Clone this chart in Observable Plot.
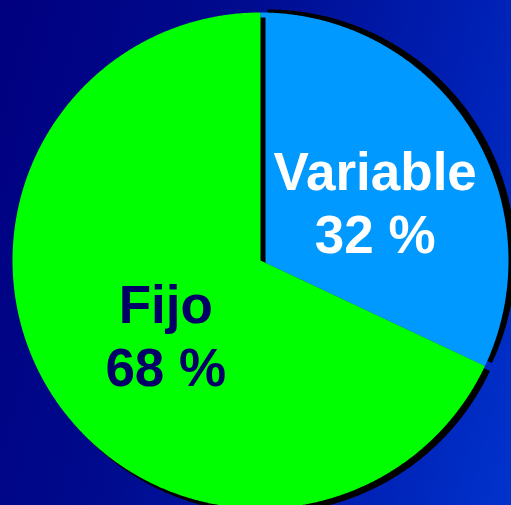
<!DOCTYPE html>
<html>
<head>
<meta charset="utf-8">
<script src="https://cdn.jsdelivr.net/npm/d3@7"></script>
<script src="https://cdn.jsdelivr.net/npm/@observablehq/plot@0.6"></script>
<style>
  html, body { margin: 0; padding: 0; background: #000080; }
  #chart svg { display: block; }
</style>
</head>
<body>
<div id="chart"></div>
<script>
// Data
const categories = ["Variable", "Fijo"];
const percents = [32, 68];
const sliceColors = ["#0099ff", "#00ff00"];
const labelColors = ["#ffffff", "#000066"];

const data = categories.map((c, i) => ({category: c, pct: percents[i], color: sliceColors[i], labelColor: labelColors[i]}));

const arcs = d3.pie().sort(null).value(d => d.pct)(data);

// polygon points for each slice (unit circle, y up, angle clockwise from 12 o'clock)
function slicePoints(a) {
  const pts = [{category: a.data.category, x: 0, y: 0}];
  const n = Math.max(2, Math.ceil((a.endAngle - a.startAngle) / 0.005));
  for (let k = 0; k <= n; k++) {
    const t = a.startAngle + (a.endAngle - a.startAngle) * k / n;
    pts.push({category: a.data.category, x: Math.sin(t), y: Math.cos(t)});
  }
  pts.push({category: a.data.category, x: 0, y: 0});
  return pts;
}
const polys = arcs.map(slicePoints);

const labels = arcs.map(a => {
  const m = (a.startAngle + a.endAngle) / 2;
  return {
    text: `${a.data.category}\n${a.data.pct} %`,
    x: 0.5 * Math.sin(m),
    y: 0.5 * Math.cos(m),
    color: a.data.labelColor
  };
});

const W = 511, H = 505, R = 248, CX = 260, CY = 260;

const marks = [];
// draw Variable (shadow+slice), then Fijo (shadow+slice)
const shadowOffsets = [[7, -3], [5, 5]];
polys.forEach((p, i) => {
  marks.push(Plot.line(p, {x: "x", y: "y", fill: "#000000", stroke: "none", dx: shadowOffsets[i][0], dy: shadowOffsets[i][1], curve: "linear"}));
  marks.push(Plot.line(p, {x: "x", y: "y", fill: sliceColors[i], stroke: "none", curve: "linear"}));
});
labels.forEach(l => {
  marks.push(Plot.text([l], {
    x: "x", y: "y", text: "text", fill: l.color,
    fontSize: 53, fontWeight: "bold", fontFamily: "Liberation Sans, Arial, sans-serif",
    lineHeight: 1.2, dx: 10, dy: 7
  }));
});

const chart = Plot.plot({
  width: W,
  height: H,
  margin: 0,
  x: {domain: [-CX / R, (W - CX) / R], axis: null},
  y: {domain: [-(H - CY) / R, CY / R], axis: null},
  style: {
    background: "linear-gradient(105deg, #000080 0%, #000a8c 35%, #0020b4 75%, #0033cc 100%)",
    overflow: "hidden"
  },
  marks
});
document.getElementById("chart").appendChild(chart);
</script>
</body>
</html>
